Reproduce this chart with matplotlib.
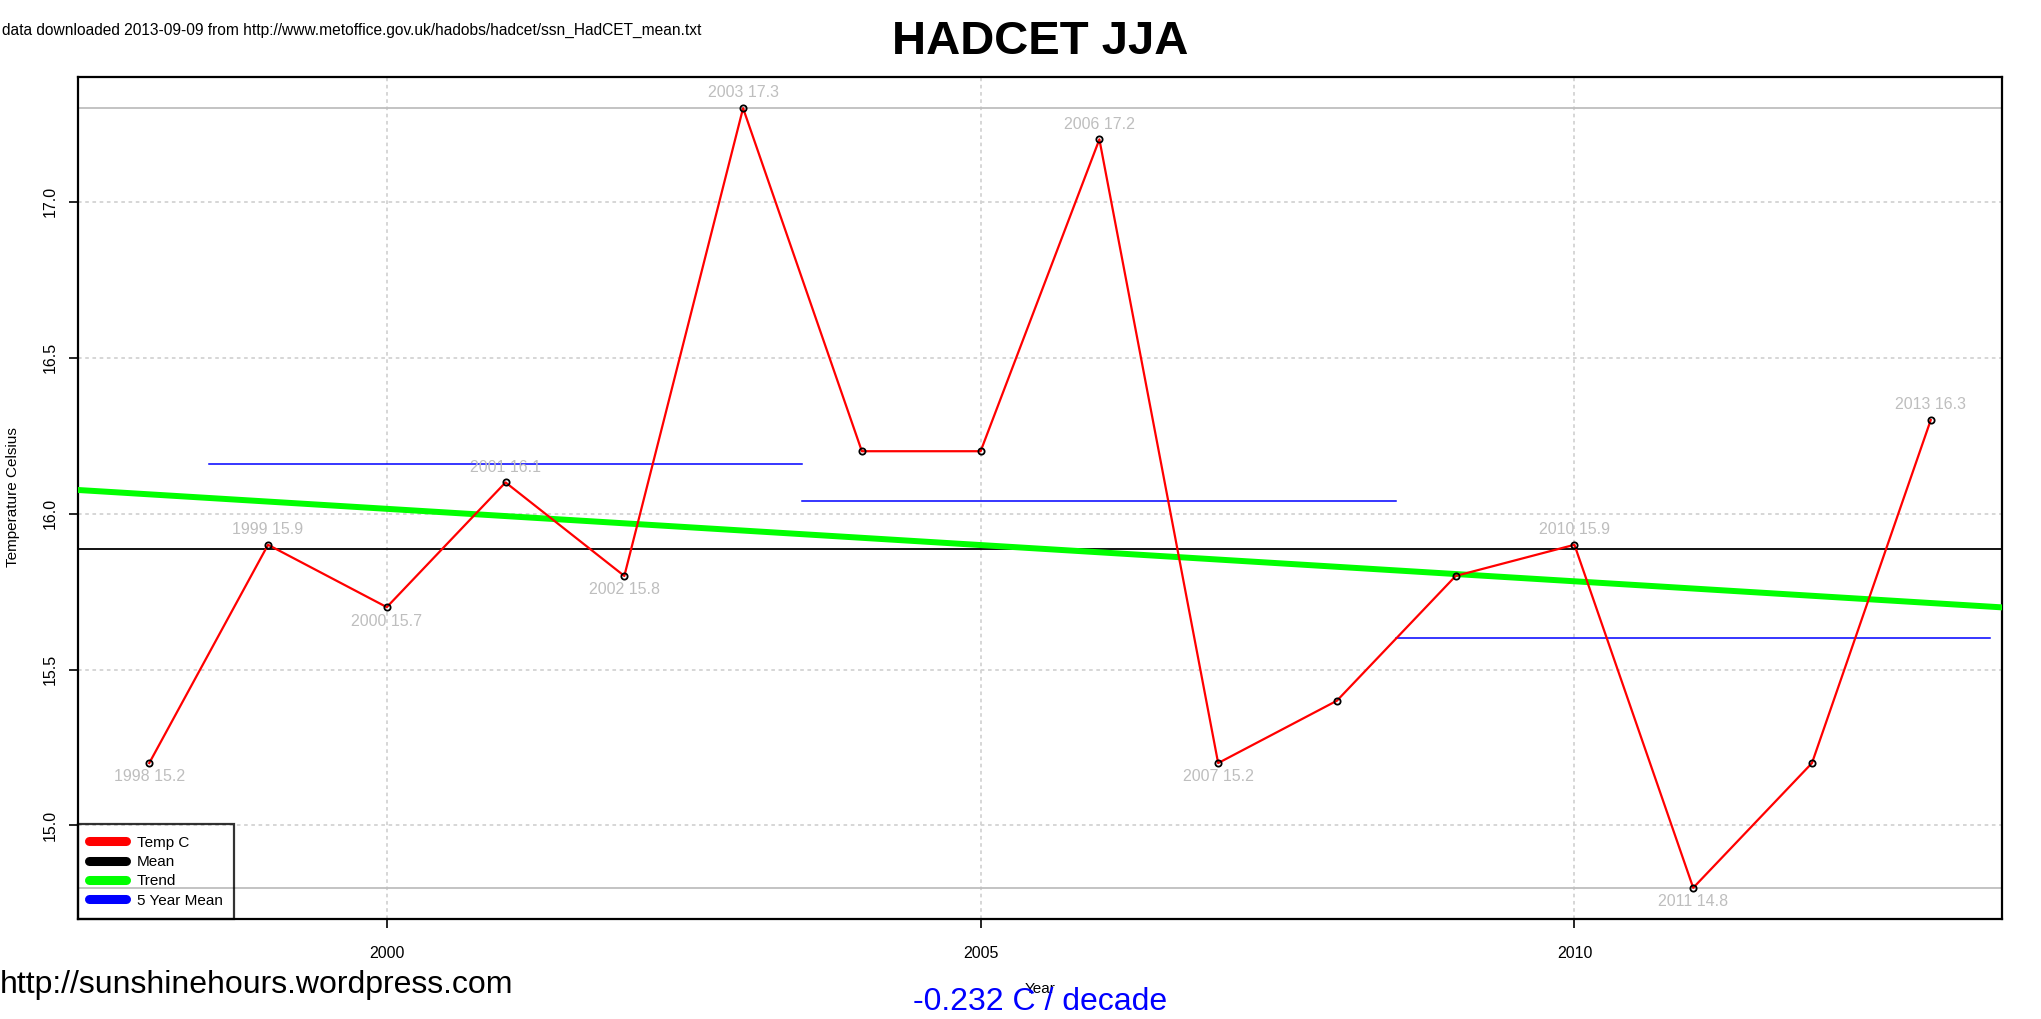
import numpy as np
import matplotlib
matplotlib.use("Agg")
import matplotlib.pyplot as plt

plt.rcParams['font.family'] = ['Liberation Sans', 'DejaVu Sans']

years = [1998, 1999, 2000, 2001, 2002, 2003, 2004, 2005,
         2006, 2007, 2008, 2009, 2010, 2011, 2012, 2013]
temps = [15.2, 15.9, 15.7, 16.1, 15.8, 17.3, 16.2, 16.2,
         17.2, 15.2, 15.4, 15.8, 15.9, 14.8, 15.2, 16.3]
x_ticks = [2000, 2005, 2010]
y_ticks = [15.0, 15.5, 16.0, 16.5, 17.0]

title = "HADCET JJA"
source_note = "data downloaded 2013-09-09 from http://www.metoffice.gov.uk/hadobs/hadcet/ssn_HadCET_mean.txt"
site = "http://sunshinehours.wordpress.com"
trend_note = "-0.232 C / decade"

x = np.array(years, dtype=float)
y = np.array(temps)
mean_t = y.mean()
slope, intercept = np.polyfit(x, y, 1)

fig = plt.figure(figsize=(20.41, 10.19), dpi=100)
ax = fig.add_axes([78 / 2041, 1 - 919 / 1019, (2002 - 78) / 2041, (919 - 77) / 1019])

xpad = (x.max() - x.min()) * 0.04
ypad = (y.max() - y.min()) * 0.04
ax.set_xlim(x.min() - xpad, x.max() + xpad)
ax.set_ylim(y.min() - ypad, y.max() + ypad)

# grid
for xt in x_ticks:
    ax.axvline(xt, color='#D3D3D3', lw=1.3, ls=(0, (2, 2)), zorder=0)
for yt in y_ticks:
    ax.axhline(yt, color='#D3D3D3', lw=1.3, ls=(0, (2, 2)), zorder=0)

# max / min lines
ax.axhline(y.max(), color='#BEBEBE', lw=1.3, zorder=1)
ax.axhline(y.min(), color='#BEBEBE', lw=1.3, zorder=1)

# mean
ax.axhline(mean_t, color='black', lw=1.3, zorder=2)

# 5 year means, grouped from the end
n = len(years)
for end in range(n, 4, -5):
    seg = y[end - 5:end]
    ax.plot([x[end - 5] - 0.5, x[end - 1] + 0.5], [seg.mean(), seg.mean()],
            color='blue', lw=1.1, zorder=3)

# trend
ax.axline((x[0], intercept + slope * x[0]), slope=slope, color='#00FF00', lw=4.3, zorder=3)

# temperatures
ax.plot(x, y, color='red', lw=1.6, zorder=4)
ax.plot(x, y, ls='none', marker='o', ms=4.5, mfc='none', mec='black', mew=1.3, zorder=5)

# labels at peaks and troughs
for i in range(n):
    nb = [y[j] for j in (i - 1, i + 1) if 0 <= j < n]
    lab = "%d %.1f" % (years[i], temps[i])
    if all(y[i] > v for v in nb):
        ax.annotate(lab, (x[i], y[i]), xytext=(0, 11), textcoords='offset points',
                    ha='center', va='center', color='#BEBEBE', fontsize=11.5, zorder=6)
    elif all(y[i] < v for v in nb):
        ax.annotate(lab, (x[i], y[i]), xytext=(0, -10), textcoords='offset points',
                    ha='center', va='center', color='#BEBEBE', fontsize=11.5, zorder=6)

ax.set_xticks(x_ticks)
ax.set_xticklabels([str(t) for t in x_ticks])
ax.set_yticks(y_ticks)
ax.set_yticklabels(["%.1f" % t for t in y_ticks], rotation=90, va='center')
ax.tick_params(axis='both', direction='out', length=6.5, width=1.2, labelsize=11.5)
ax.tick_params(axis='x', pad=13)
ax.tick_params(axis='y', pad=8)
for s in ax.spines.values():
    s.set_linewidth(1.6)

# legend
handles = [plt.Line2D([], [], color=c, lw=6.5, solid_capstyle='round')
           for c in ['red', 'black', '#00FF00', 'blue']]
leg = ax.legend(handles, ['Temp C', 'Mean', 'Trend', '5 Year Mean'], loc='lower left',
                bbox_to_anchor=(0, 0), borderaxespad=0, fontsize=11, fancybox=False,
                edgecolor='black', handlelength=2.4, handletextpad=0.7,
                labelspacing=0.35, borderpad=0.75)
leg.get_frame().set_facecolor('none')
leg.get_frame().set_linewidth(1.6)
leg.set_zorder(7)

cx = (78 + 2002) / 2 / 2041
fig.text(cx, 1 - 42 / 1019, title, ha='center', va='center', fontsize=34, fontweight='bold')
fig.text(2 / 2041, 1 - 30 / 1019, source_note, ha='left', va='center', fontsize=11.2)
fig.text(13 / 2041, 1 - 497 / 1019, "Temperature Celsius", rotation=90, ha='center', va='center', fontsize=11)
fig.text(cx, 1 - 989 / 1019, "Year", ha='center', va='center', fontsize=11)
fig.text(0, 1 - 985 / 1019, site, ha='left', va='center', fontsize=23)
fig.text(cx, 1 - 1002 / 1019, trend_note, ha='center', va='center', fontsize=23, color='blue')

fig.savefig("out.png", dpi=100)
